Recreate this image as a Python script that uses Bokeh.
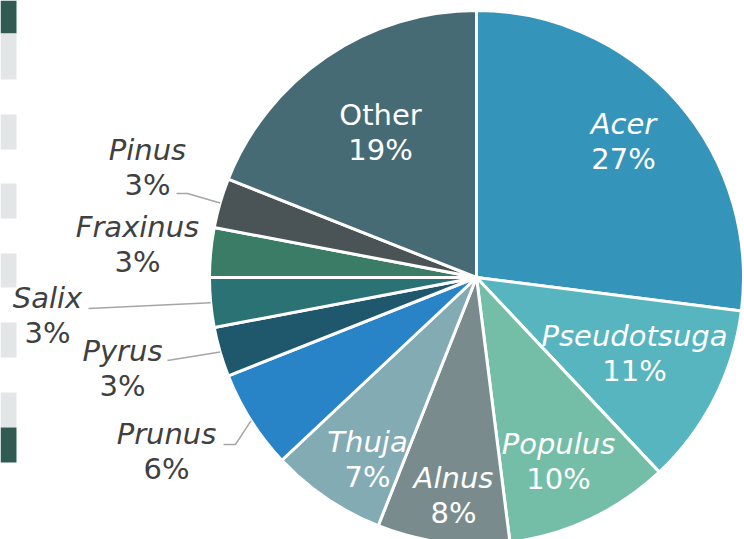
import math
from bokeh.plotting import figure
from bokeh.models import ColumnDataSource, Range1d
from bokeh.core.properties import value
from bokeh.embed import file_html
from bokeh.resources import INLINE

# ---- data ----
genera = ["Acer", "Pseudotsuga", "Populus", "Alnus", "Thuja", "Prunus",
          "Pyrus", "Salix", "Fraxinus", "Pinus", "Other"]
shares = [27, 11, 10, 8, 7, 6, 3, 3, 3, 3, 19]
colors = ["#3594BA", "#57B5C0", "#74BEA7", "#798B8C", "#82ABB4", "#2883C7",
          "#1F586C", "#2B7275", "#3A7C65", "#4A5456", "#476B75"]
inside = [True, True, True, True, True, False, False, False, False, False, True]
italic = [True, True, True, True, True, True, True, True, True, True, False]

# ---- layout (screen pixels, y down) ----
W, H = 744, 539
CX, CY, R = 476, 277, 267
label_pos = {  # centre of two-line label block
    "Acer": (623, 141), "Pseudotsuga": (634, 353), "Populus": (558, 461),
    "Alnus": (453, 495), "Thuja": (367, 459), "Prunus": (166, 451),
    "Pyrus": (122, 368), "Salix": (47, 315), "Fraxinus": (137, 244),
    "Pinus": (147, 167), "Other": (380, 132),
}
leader_start = {
    "Pinus": [(176, 193), (187, 193)],
    "Salix": [(88, 308)],
    "Pyrus": [(167, 360)],
    "Prunus": [(223, 444), (235, 444)],
}
LINE_GAP = 35
FONT = "DejaVu Sans"
FSIZE = "29px"

def fy(y):
    return H - y

total = float(sum(shares))
starts, ends, mids = [], [], []
cum = 0.0
for s in shares:
    a0 = cum / total
    cum += s
    a1 = cum / total
    starts.append(math.pi / 2 - 2 * math.pi * a0)
    ends.append(math.pi / 2 - 2 * math.pi * a1)
    mids.append(math.pi / 2 - 2 * math.pi * (a0 + a1) / 2)

p = figure(width=W, height=H, output_backend="svg", toolbar_location=None,
           x_range=Range1d(0, W), y_range=Range1d(0, H),
           x_axis_location=None, y_axis_location=None, min_border=0,
           outline_line_color=None, background_fill_color="white",
           border_fill_color="white")
p.grid.visible = False
p.styles = {"position": "absolute", "left": "0px", "top": "0px"}

# decorative strip on the far left
strip_spans = [(0, 33), (33, 79), (114, 149), (183, 218), (253, 287),
               (322, 357), (392, 427), (427, 462)]
strip_cols = ["#2F5B52", "#E2E6E7", "#E2E6E7", "#E2E6E7", "#E2E6E7",
              "#E2E6E7", "#E2E6E7", "#2F5B52"]
p.quad(left=[0] * len(strip_spans), right=[16] * len(strip_spans),
       top=[fy(a) for a, b in strip_spans], bottom=[fy(b) for a, b in strip_spans],
       fill_color=strip_cols, line_color=None)

src = ColumnDataSource(dict(start=starts, end=ends, color=colors, name=genera))
p.wedge(x=CX, y=fy(CY), radius=R, start_angle="start", end_angle="end",
        direction="clock", fill_color="color", line_color="white",
        line_width=3, source=src)

# leader lines
xs, ys = [], []
for name, pts in leader_start.items():
    i = genera.index(name)
    ex = CX + R * math.cos(mids[i])
    ey = fy(CY) + R * math.sin(mids[i])
    xs.append([x for x, y in pts] + [ex])
    ys.append([fy(y) for x, y in pts] + [ey])
p.multi_line(xs=xs, ys=ys, line_color="#A6A6A6", line_width=1.5)

# labels
for ital in (True, False):
    nx, ny, nt, nc = [], [], [], []
    for i, g in enumerate(genera):
        if italic[i] != ital:
            continue
        lx, ly = label_pos[g]
        nx.append(lx)
        ny.append(fy(ly - LINE_GAP / 2))
        nt.append(g)
        nc.append("white" if inside[i] else "#404040")
    p.text(x=nx, y=ny, text=nt, text_color=nc, text_align="center",
           text_baseline="middle", text_font=value(FONT), text_font_size=FSIZE,
           text_font_style="italic" if ital else "normal")

px, py, pt, pc = [], [], [], []
for i, g in enumerate(genera):
    lx, ly = label_pos[g]
    px.append(lx)
    py.append(fy(ly + LINE_GAP / 2))
    pt.append(f"{shares[i]}%")
    pc.append("white" if inside[i] else "#404040")
p.text(x=px, y=py, text=pt, text_color=pc, text_align="center",
       text_baseline="middle", text_font=value(FONT), text_font_size=FSIZE)

open("out.html", "w").write(file_html(p, INLINE))
